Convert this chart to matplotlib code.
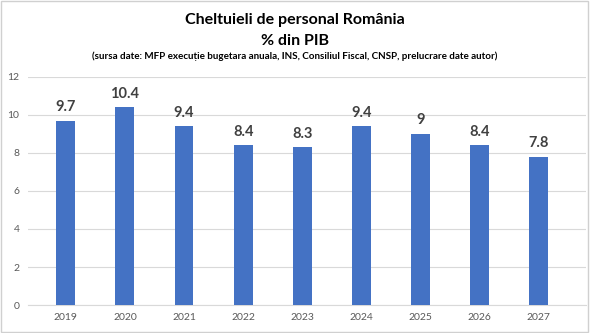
import matplotlib.pyplot as plt
from matplotlib.patches import Rectangle

plt.rcParams['font.family'] = ['Lato', 'DejaVu Sans']

years = ['2019', '2020', '2021', '2022', '2023', '2024', '2025', '2026', '2027']
values = [9.7, 10.4, 9.4, 8.4, 8.3, 9.4, 9, 8.4, 7.8]
labels = ['9.7', '10.4', '9.4', '8.4', '8.3', '9.4', '9', '8.4', '7.8']

fig = plt.figure(figsize=(5.9, 3.33), dpi=100)
ax = fig.add_axes([0.047, 0.084, 0.946, 0.685])

x = range(len(years))
ax.bar(x, values, width=0.32, color='#4472C4', zorder=3)
for i, v in enumerate(values):
    ax.text(i, v + 0.35, labels[i], ha='center', va='bottom', fontsize=10.5,
            fontweight='bold', color='#404040')

ax.set_xlim(-0.643, 8.795)
ax.set_ylim(0, 12)
ax.set_yticks(range(0, 13, 2))
ax.set_xticks(list(x))
ax.set_xticklabels(years)
ax.yaxis.grid(True, color='#d9d9d9', linewidth=0.8, zorder=0)
ax.tick_params(axis='both', length=0, labelsize=7.5, colors='#595959')
ax.tick_params(axis='y', pad=6)
ax.tick_params(axis='x', pad=6)
for s in ['top', 'right', 'left']:
    ax.spines[s].set_visible(False)
ax.spines['bottom'].set_color('#d9d9d9')

fig.text(0.5, 1 - 20 / 333, 'Cheltuieli de personal România', ha='center', va='center',
         fontsize=11.5, fontweight='bold', color='black')
fig.text(0.5, 1 - 41 / 333, '% din PIB', ha='center', va='center',
         fontsize=11.5, fontweight='bold', color='black')
fig.text(0.5, 1 - 56 / 333, '(sursa date: MFP execuție bugetara anuala, INS, Consiliul Fiscal, CNSP, prelucrare date autor)',
         ha='center', va='center', fontsize=7.1, fontweight='bold', color='black')

fig.patches.append(Rectangle((0.002, 0.003), 0.995, 0.993, transform=fig.transFigure,
                             fill=False, edgecolor='#d0d0d0', linewidth=1))

fig.savefig('out.png', dpi=100)
